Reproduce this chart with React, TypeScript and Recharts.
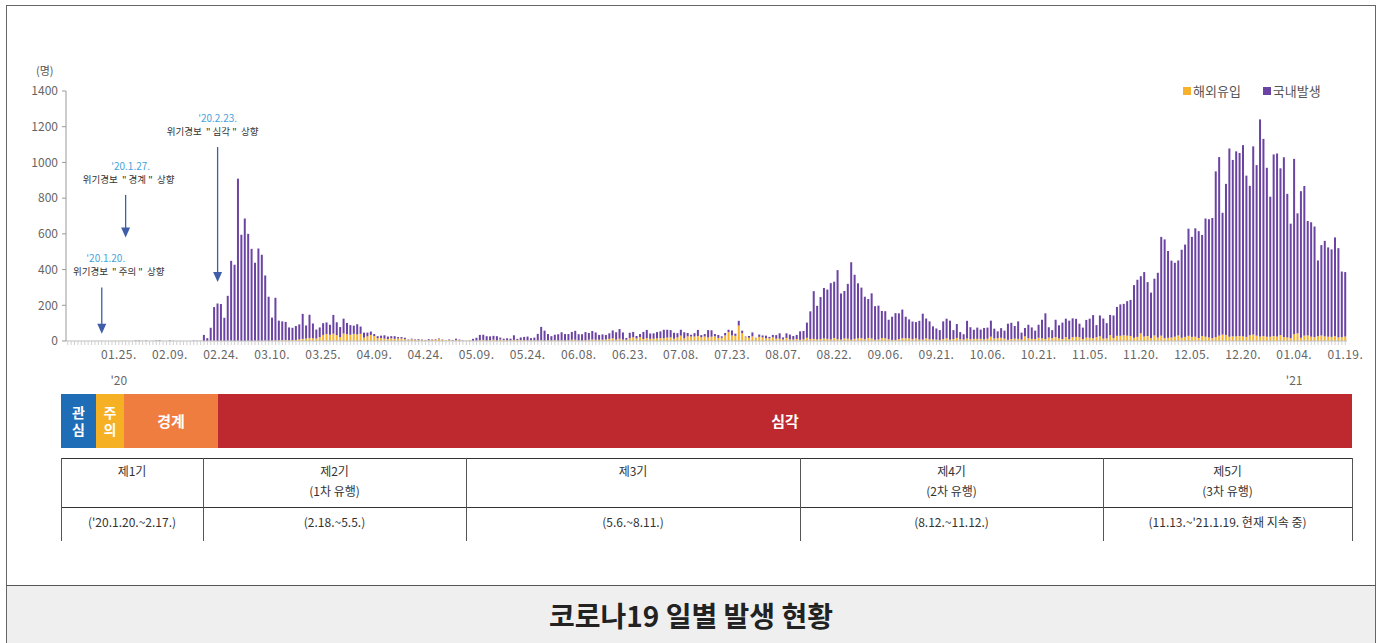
import { BarChart, Bar, XAxis, YAxis, ReferenceLine } from 'recharts';

// daily confirmed cases, 2020-01-10 .. 2021-01-19 (one value per day)
const START = Date.UTC(2020, 0, 10);
const DAY = 86400000;

const importedCases = [
  // 2020-01 (from 01.10)
  0, 0, 0, 0, 0, 0, 0, 0, 0, 0, 1, 0, 0, 0, 1, 0, 1, 1, 0, 0, 1, 2,
  // 02
  1, 1, 0, 1, 1, 1, 0, 0, 0, 0, 0, 0, 0, 0, 0, 0, 0, 0, 0, 0, 1, 1, 0, 1, 0, 1, 1, 0, 1,
  // 03
  0, 0, 1, 0, 1, 1, 1, 2, 1, 2, 3, 4, 5, 6, 4, 5, 6, 9, 12, 14, 17, 15, 14, 22, 34, 39, 35, 41, 33, 22, 42,
  // 04
  38, 35, 40, 37, 40, 19, 26, 34, 28, 15, 17, 13, 11, 15, 12, 14, 14, 10, 5, 9, 6, 7, 5, 5, 4, 8, 7, 11, 7, 4,
  // 05
  6, 3, 6, 4, 1, 2, 3, 1, 2, 4, 6, 2, 5, 7, 3, 8, 6, 4, 4, 6, 6, 5, 4, 3, 4, 3, 2, 4, 2, 4, 3,
  // 06
  5, 2, 3, 2, 4, 7, 7, 3, 2, 4, 7, 8, 7, 7, 7, 9, 12, 15, 8, 13, 8, 7, 16, 21, 14, 22, 11, 16, 12, 13,
  // 07
  15, 16, 15, 19, 20, 13, 20, 30, 15, 26, 25, 25, 28, 21, 25, 20, 24, 26, 17, 18, 31, 50, 31, 29, 86, 44, 22, 18, 26, 16, 23,
  // 08
  20, 15, 15, 21, 13, 13, 9, 17, 9, 8, 11, 7, 9, 18, 11, 12, 9, 11, 14, 12, 9, 17, 10, 8, 14, 13, 7, 12, 15, 16, 10,
  // 09
  17, 14, 7, 9, 16, 15, 10, 6, 6, 11, 15, 15, 15, 10, 15, 8, 8, 15, 10, 9, 8, 6, 11, 15, 8, 11, 17, 10, 8, 14,
  // 10
  10, 12, 12, 12, 9, 13, 24, 14, 16, 18, 13, 7, 11, 13, 12, 8, 26, 15, 12, 11, 18, 15, 11, 19, 16, 22, 15, 11, 22, 11, 21,
  // 11
  23, 21, 11, 19, 18, 15, 21, 27, 13, 15, 33, 17, 29, 29, 32, 30, 28, 18, 23, 43, 25, 28, 16, 31, 19, 30, 16, 18, 19, 24,
  // 12
  31, 18, 23, 29, 23, 24, 17, 28, 24, 20, 16, 22, 30, 36, 34, 24, 26, 26, 28, 26, 23, 32, 36, 30, 25, 28, 24, 24, 28, 25, 33,
  // 2021-01
  22, 20, 16, 38, 43, 18, 30, 31, 24, 22, 27, 31, 26, 24, 23, 27, 20, 22, 25,
];

const domesticCases = [
  // 2020-01 (from 01.10)
  0, 0, 0, 0, 0, 0, 0, 0, 0, 0, 0, 0, 0, 0, 0, 0, 0, 0, 0, 0, 2, 2,
  // 02
  0, 2, 0, 0, 2, 3, 0, 0, 3, 1, 0, 0, 0, 0, 0, 2, 1, 1, 34, 16, 73, 189, 210, 206, 130, 252, 448, 427, 908,
  // 03
  595, 686, 599, 516, 437, 517, 482, 365, 247, 129, 239, 110, 105, 101, 72, 69, 78, 84, 140, 73, 130, 83, 50, 54, 66, 65, 56, 105, 72, 56, 83,
  // 04
  63, 54, 46, 57, 41, 28, 21, 19, 11, 12, 13, 19, 14, 12, 15, 8, 8, 8, 3, 4, 3, 4, 3, 1, 6, 2, 3, 3, 2, 0,
  // 05
  3, 3, 7, 4, 2, 0, 1, 11, 16, 30, 29, 25, 21, 22, 24, 11, 7, 11, 9, 26, 6, 15, 19, 22, 12, 16, 38, 75, 56, 35, 24,
  // 06
  30, 36, 46, 37, 35, 44, 50, 35, 36, 46, 38, 48, 41, 27, 30, 25, 31, 44, 41, 54, 40, 10, 30, 30, 14, 17, 40, 46, 30, 30,
  // 07
  35, 38, 48, 44, 41, 33, 24, 33, 34, 19, 10, 19, 34, 12, 14, 41, 36, 13, 17, 8, 14, 13, 28, 12, 27, 14, 3, 10, 22, 2, 13,
  // 08
  11, 15, 8, 13, 20, 30, 11, 26, 27, 20, 23, 47, 47, 85, 155, 267, 188, 235, 283, 276, 315, 315, 387, 258, 266, 307, 434, 359, 308, 283, 238,
  // 09
  218, 253, 188, 189, 152, 152, 109, 130, 150, 144, 161, 121, 106, 99, 91, 105, 145, 111, 100, 73, 62, 55, 99, 110, 106, 50, 78, 40, 30, 99,
  // 10
  67, 51, 63, 52, 64, 62, 90, 55, 38, 54, 45, 90, 91, 71, 98, 39, 47, 76, 64, 47, 73, 104, 144, 58, 45, 97, 73, 92, 103, 103, 106,
  // 11
  101, 76, 64, 99, 107, 130, 68, 116, 113, 85, 113, 126, 162, 176, 176, 193, 202, 295, 320, 320, 361, 302, 255, 318, 363, 553, 553, 486, 431, 414,
  // 12
  420, 493, 517, 600, 560, 607, 598, 566, 662, 662, 673, 928, 1000, 682, 846, 1054, 988, 1036, 1025, 1071, 903, 837, 1054, 955, 1216, 1104, 946, 784, 1017, 1025, 934,
  // 2021-01
  1007, 804, 641, 982, 672, 821, 838, 641, 641, 619, 424, 506, 535, 500, 490, 553, 500, 367, 361,
];

const tickDates = [
  '2020-01-25', '2020-02-09', '2020-02-24', '2020-03-10', '2020-03-25', '2020-04-09',
  '2020-04-24', '2020-05-09', '2020-05-24', '2020-06-08', '2020-06-23', '2020-07-08',
  '2020-07-23', '2020-08-07', '2020-08-22', '2020-09-06', '2020-09-21', '2020-10-06',
  '2020-10-21', '2020-11-05', '2020-11-20', '2020-12-05', '2020-12-20', '2021-01-04',
  '2021-01-19',
];
const yearTags: Record<string, string> = { '2020-01-25': "'20", '2021-01-04': "'21" };
const yTicks = [0, 200, 400, 600, 800, 1000, 1200, 1400];

const notes = [
  { date: '2020-01-20', top: 300, bottom: 40, stamp: "'20.1.20.", level: '주의', stampDx: 4, textDx: 17 },
  { date: '2020-01-27', top: 818, bottom: 580, stamp: "'20.1.27.", level: '경계', stampDx: 5, textDx: 3 },
  { date: '2020-02-23', top: 1086, bottom: 330, stamp: "'20.2.23.", level: '심각', stampDx: 0, textDx: -5 },
];

const alertNames = ['관심', '주의', '경계', '심각'];
const phaseNames = ['제1기', '제2기', '제3기', '제4기', '제5기'];
const phaseWaves = ['', '(1차 유행)', '', '(2차 유행)', '(3차 유행)'];
const phaseRanges = ["('20.1.20.~2.17.)", '(2.18.~5.5.)', '(5.6.~8.11.)', '(8.12.~11.12.)', "(11.13.~'21.1.19. 현재 지속 중)"];

const data = domesticCases.map((d, i) => ({
  date: new Date(START + i * DAY).toISOString().slice(0, 10),
  imported: importedCases[i],
  domestic: d,
}));

const NUM_FONT = "'Liberation Sans Narrow', 'Noto Sans CJK KR', sans-serif";
const KR_FONT = "'Noto Sans CJK KR', sans-serif";

const DateTick = ({ x, y, payload }: any) => {
  const key: string = payload.value;
  if (!tickDates.includes(key)) return null;
  const [, mm, dd] = key.split('-');
  return (
    <g>
      <text x={x} y={y + 12} textAnchor="middle" fontSize={12} fill="#666" fontFamily={NUM_FONT} letterSpacing={0.4}>
        {`${mm}.${dd}.`}
      </text>
      {yearTags[key] && (
        <text x={x} y={y + 38} textAnchor="middle" fontSize={12} fill="#666" fontFamily={NUM_FONT}>
          {yearTags[key]}
        </text>
      )}
    </g>
  );
};

const arrowShape = (note: (typeof notes)[number]) => (props: any) => {
  const { x1, y1, x2, y2 } = props;
  const top = Math.min(y1, y2);
  const bottom = Math.max(y1, y2);
  return (
    <g>
      <line x1={x1} y1={top} x2={x2} y2={bottom - 8} stroke="#3f5da8" strokeWidth={1.3} />
      <path d={`M${x2 - 4.5},${bottom - 10} L${x2 + 4.5},${bottom - 10} L${x2},${bottom} Z`} fill="#3f5da8" />
      <text x={x1 + note.stampDx} y={top - 25} textAnchor="middle" fontSize={10} fill="#45a4dc" fontFamily={NUM_FONT}>
        {note.stamp}
      </text>
      <text x={x1 + note.textDx} y={top - 12} textAnchor="middle" fontSize={9.5} fill="#333" fontFamily={KR_FONT} style={{ whiteSpace: 'pre' }}>
        {`위기경보  " ${note.level} "  상향`}
      </text>
    </g>
  );
};

const bandEdges = [61, 96, 124, 218, 1352];
const bandColors = ['#1f6db6', '#f5b023', '#ef7d3f', '#bd292f'];
const colEdges = [61, 203, 466, 800, 1103, 1352];

const App = () => {
  return (
    <div style={{ position: 'absolute', left: 0, top: 0, width: 1383, height: 643, background: '#fff', overflow: 'hidden' }}>
      <div style={{ position: 'absolute', left: 6, top: 5, width: 1370, height: 640, border: '1px solid #666', boxSizing: 'border-box' }} />

      <div style={{ position: 'absolute', left: 0, top: 0 }}>
        <BarChart
          width={1383}
          height={395}
          data={data}
          margin={{ top: 91, right: 36, bottom: 15, left: 26 }}
          barCategoryGap="18%"
        >
          <XAxis
            dataKey="date"
            interval={0}
            tick={<DateTick />}
            tickSize={4}
            tickMargin={2}
            tickLine={{ stroke: '#d0d0d0' }}
            axisLine={{ stroke: '#bdbdbd' }}
            height={39}
          />
          <YAxis
            domain={[0, 1400]}
            ticks={yTicks}
            width={40}
            tickSize={4}
            tickMargin={4}
            tick={{ fontSize: 12, fill: '#666', fontFamily: NUM_FONT }}
            tickLine={{ stroke: '#999' }}
            axisLine={{ stroke: '#999' }}
          />
          <Bar dataKey="imported" name="해외유입" stackId="a" fill="#f7b12d" isAnimationActive={false} />
          <Bar dataKey="domestic" name="국내발생" stackId="a" fill="#6b43a3" isAnimationActive={false} />
          {notes.map((n) => (
            <ReferenceLine
              key={n.date}
              segment={[{ x: n.date, y: n.top }, { x: n.date, y: n.bottom }]}
              shape={arrowShape(n)}
              ifOverflow="visible"
            />
          ))}
        </BarChart>
      </div>

      <div style={{ position: 'absolute', left: 36, top: 62, fontSize: 11, color: '#555', fontFamily: KR_FONT }}>(명)</div>

      <div style={{ position: 'absolute', left: 1183, top: 81, display: 'flex', alignItems: 'center', fontSize: 13, color: '#555', fontFamily: KR_FONT }}>
        <span style={{ width: 8, height: 8, background: '#f7b12d', display: 'inline-block', marginRight: 2 }} />
        <span style={{ marginRight: 22 }}>해외유입</span>
        <span style={{ width: 8, height: 8, background: '#6b43a3', display: 'inline-block', marginRight: 2 }} />
        <span>국내발생</span>
      </div>

      {alertNames.map((name, i) => (
        <div
          key={name}
          style={{
            position: 'absolute',
            left: bandEdges[i],
            top: 394,
            width: bandEdges[i + 1] - bandEdges[i],
            height: 54,
            background: bandColors[i],
            color: '#fff',
            fontFamily: KR_FONT,
            fontWeight: 700,
            fontSize: i < 2 ? 14 : 15,
            lineHeight: i < 2 ? '17px' : '54px',
            display: 'flex',
            alignItems: 'center',
            justifyContent: 'center',
            textAlign: 'center',
            whiteSpace: 'pre',
          }}
        >
          {i < 2 ? `${name[0]}\n${name[1]}` : name}
        </div>
      ))}

      <div style={{ position: 'absolute', left: 61, top: 458, width: 1291, height: 1, background: '#333' }} />
      <div style={{ position: 'absolute', left: 61, top: 507, width: 1291, height: 1, background: '#333' }} />
      {colEdges.map((x) => (
        <div key={x} style={{ position: 'absolute', left: x, top: 458, width: 1, height: 83, background: '#555' }} />
      ))}
      {phaseNames.map((name, i) => (
        <div
          key={name}
          style={{
            position: 'absolute',
            left: colEdges[i],
            width: colEdges[i + 1] - colEdges[i],
            top: 461,
            textAlign: 'center',
            fontFamily: KR_FONT,
            fontSize: 12,
            lineHeight: '20px',
            color: '#333',
          }}
        >
          <div>{name}</div>
          <div>{phaseWaves[i]}</div>
        </div>
      ))}
      {phaseRanges.map((r, i) => (
        <div
          key={r}
          style={{
            position: 'absolute',
            left: colEdges[i],
            width: colEdges[i + 1] - colEdges[i],
            top: 514,
            textAlign: 'center',
            fontFamily: NUM_FONT,
            fontSize: 12,
            lineHeight: '16px',
            color: '#333',
          }}
        >
          {r}
        </div>
      ))}

      <div
        style={{
          position: 'absolute',
          left: 6,
          top: 585,
          width: 1370,
          height: 58,
          background: '#efefef',
          borderTop: '1px solid #555',
          borderLeft: '1px solid #666',
          borderRight: '1px solid #666',
          boxSizing: 'border-box',
          display: 'flex',
          alignItems: 'center',
          justifyContent: 'center',
          fontFamily: KR_FONT,
          fontWeight: 700,
          fontSize: 28,
          color: '#222',
        }}
      >
        코로나19 일별 발생 현황
      </div>
    </div>
  );
};

export default App;
